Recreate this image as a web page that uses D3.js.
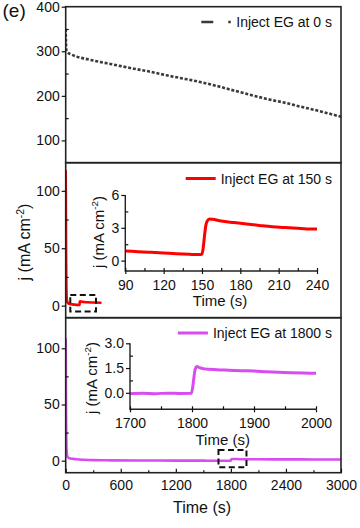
<!DOCTYPE html>
<html><head><meta charset="utf-8">
<script src="https://cdn.jsdelivr.net/npm/d3@7"></script>
<style>
body{margin:0;background:#fff}
svg{display:block;font-family:"Liberation Sans",Arial,sans-serif}
</style>
</head><body>
<svg id="c" width="360" height="528"></svg>
<script>
// ---------------- data ----------------
const timeTop = [0, 3, 8, 20, 60, 120, 240, 375, 500, 740, 900, 1100, 1300, 1465, 1650, 1830, 2000, 2190, 2400, 2555, 2800, 3000];
const valTop  = [350, 318, 302, 298, 293, 288, 282, 276, 271, 261, 255, 246, 238, 231, 222, 212, 203, 193, 184, 176, 164, 153];

const timeMid = [0, 1, 2, 3, 4, 5, 6, 8, 10, 13, 17, 22, 30, 45, 70, 100, 130, 150, 151, 153, 156, 170, 200, 240, 300, 390];
const valMid  = [118, 105, 88, 70, 52, 38, 27, 14, 8, 5, 3.5, 2.6, 2, 1.5, 1.1, 0.85, 0.65, 0.55, 1.2, 3.2, 3.8, 3.5, 3.2, 2.9, 2.7, 2.5];

const timeBot = [0, 1, 2, 3, 5, 7, 10, 14, 20, 30, 50, 80, 120, 200, 300, 500, 800, 1200, 1500, 1799, 1805, 1812, 1900, 2100, 2400, 2700, 3000];
const valBot  = [109, 95, 75, 55, 32, 18, 9, 5, 3.5, 2.6, 2, 1.6, 1.2, 0.8, 0.5, 0.3, 0.15, 0.05, 0, -0.03, 1.2, 1.55, 1.3, 1.2, 1.15, 1.1, 1.05];

const timeInsetMid = [90, 100, 110, 120, 130, 140, 148, 150, 151, 152, 153, 154, 156, 158, 165, 175, 185, 195, 205, 215, 225, 232, 240];
const valInsetMid  = [0.88, 0.82, 0.76, 0.7, 0.63, 0.58, 0.55, 0.6, 1.2, 2.3, 3.2, 3.6, 3.8, 3.78, 3.62, 3.48, 3.35, 3.22, 3.1, 3.02, 2.95, 2.9, 2.88];

const timeInsetBot = [1700, 1720, 1740, 1760, 1780, 1799, 1801, 1803, 1805, 1808, 1812, 1820, 1840, 1860, 1880, 1900, 1920, 1940, 1960, 1980, 2000];
const valInsetBot  = [-0.05, -0.03, -0.05, -0.02, -0.04, -0.03, 0.3, 0.9, 1.4, 1.6, 1.52, 1.45, 1.4, 1.37, 1.34, 1.32, 1.28, 1.25, 1.22, 1.2, 1.18];

const legendLabels = ["Inject EG at 0 s", "Inject EG at 150 s", "Inject EG at 1800 s"];

const xTicks = [0, 600, 1200, 1800, 2400, 3000];
const xMinor = [300, 900, 1500, 2100, 2700];
const topYTicks = [100, 200, 300, 400];
const topYMinor = [150, 250, 350];
const midYTicks = [0, 50, 100];
const midYMinor = [25, 75];
const botYTicks = [0, 50, 100];
const botYMinor = [25, 75];
const insMidXTicks = [90, 120, 150, 180, 210, 240];
const insMidXMinor = [105, 135, 165, 195, 225];
const insMidYTicks = [0, 3, 6];
const insMidYMinor = [1.5, 4.5];
const insBotXTicks = [1700, 1800, 1900, 2000];
const insBotXMinor = [1750, 1850, 1950];
const insBotYTicks = [0, 1.5, 3];
const insBotYMinor = [0.75, 2.25];

// zoom boxes (time range, value range)
const boxMidT = [50, 330], boxMidV = [-5, 9.3];
const boxBotT = [1665, 1970], boxBotV = [-5.9, 9.5];

// ---------------- drawing ----------------
const svg = d3.select("#c");
const RED = "#ff0000", MAG = "#d84cf0", GREY = "#3a3a3a", INK = "#111";

const x = d3.scaleLinear().domain([0, 3000]).range([65.7, 341]);
const yTop = d3.scaleLinear().domain([50, 400]).range([162.7, 6.7]);
const yMid = d3.scaleLinear().domain([-10.5, 124.5]).range([317.7, 162.7]);
const yBot = d3.scaleLinear().domain([-10.7, 127.2]).range([472.7, 317.7]);

const xiM = d3.scaleLinear().domain([90, 240]).range([125.3, 317]);
const yiM = d3.scaleLinear().domain([-0.95, 6]).range([271, 195]);
const xiB = d3.scaleLinear().domain([1700, 2000]).range([130, 316]);
const yiB = d3.scaleLinear().domain([-1, 3]).range([409.3, 343.3]);

function clean(g){ g.select(".domain").remove(); g.selectAll("line").attr("stroke", INK).attr("stroke-width", 1.2); g.selectAll("text").attr("fill", INK); return g; }

function yAxis(xpos, scale, majors, minors, fs, pad, fmt){
  clean(svg.append("g").attr("transform", `translate(${xpos},0)`)
    .call(d3.axisLeft(scale).tickValues(majors).tickSize(4).tickPadding(pad).tickFormat(fmt || d3.format("d"))))
    .selectAll("text").style("font-size", fs + "px");
  clean(svg.append("g").attr("transform", `translate(${xpos},0)`)
    .call(d3.axisRight(scale).tickValues(minors).tickSize(3).tickFormat("")));
}
function xAxis(ypos, scale, majors, minors, fs, pad, out){
  clean(svg.append("g").attr("transform", `translate(0,${ypos})`)
    .call(d3.axisBottom(scale).tickValues(majors).tickSize(out).tickPadding(pad).tickFormat(d3.format("d"))))
    .selectAll("text").style("font-size", fs + "px");
  clean(svg.append("g").attr("transform", `translate(0,${ypos})`)
    .call(d3.axisTop(scale).tickValues(majors).tickSize(4).tickFormat("")));
  clean(svg.append("g").attr("transform", `translate(0,${ypos})`)
    .call(d3.axisTop(scale).tickValues(minors).tickSize(2.5).tickFormat("")));
}

// clip for main plot
svg.append("defs").append("clipPath").attr("id", "clipMain")
  .append("rect").attr("x", x(0)).attr("y", yTop.range()[1]).attr("width", x(3000) - x(0)).attr("height", yBot.range()[0] - yTop.range()[1]);

// ---- main lines ----
const lineTop = d3.line().x((d, i) => x(timeTop[i])).y(d => yTop(d)).curve(d3.curveMonotoneX);
svg.append("path").attr("clip-path", "url(#clipMain)").attr("d", lineTop(valTop))
  .attr("fill", "none").attr("stroke", GREY).attr("stroke-width", 2.6).attr("stroke-dasharray", "3,1.8");

const lineMid = d3.line().x((d, i) => x(timeMid[i])).y(d => yMid(d)).curve(d3.curveMonotoneX);
svg.append("path").attr("clip-path", "url(#clipMain)").attr("d", lineMid(valMid))
  .attr("fill", "none").attr("stroke", RED).attr("stroke-width", 2.6).attr("stroke-linejoin", "round");

const lineBot = d3.line().x((d, i) => x(timeBot[i])).y(d => yBot(d)).curve(d3.curveMonotoneX);
svg.append("path").attr("clip-path", "url(#clipMain)").attr("d", lineBot(valBot))
  .attr("fill", "none").attr("stroke", MAG).attr("stroke-width", 2.6).attr("stroke-linejoin", "round");

// ---- panel frames ----
[[yTop], [yMid], [yBot]].forEach(([ys]) => {
  const [b, t] = ys.range();
  svg.append("rect").attr("x", x(0)).attr("y", t).attr("width", x(3000) - x(0)).attr("height", b - t)
    .attr("fill", "none").attr("stroke", "#222").attr("stroke-width", 1.6);
});

// ---- main axes ----
yAxis(x(0), yTop, topYTicks, topYMinor, 14, 2);
yAxis(x(0), yMid, midYTicks, midYMinor, 14, 2);
yAxis(x(0), yBot, botYTicks, botYMinor, 14, 2);
xAxis(yBot.range()[0], x, xTicks, xMinor, 14, 7.4, 0);

// dashed zoom boxes
function zoomBox(ts, vs, ys){
  svg.append("rect").attr("x", x(ts[0])).attr("y", ys(vs[1]))
    .attr("width", x(ts[1]) - x(ts[0])).attr("height", ys(vs[0]) - ys(vs[1]))
    .attr("fill", "none").attr("stroke", "#111").attr("stroke-width", 2).attr("stroke-dasharray", "6,3.5");
}
zoomBox(boxMidT, boxMidV, yMid);
zoomBox(boxBotT, boxBotV, yBot);

// ---- insets ----
function inset(xs, ys, tArr, vArr, color, xT, xM, yT, yM, yfmt){
  const ln = d3.line().x((d, i) => xs(tArr[i])).y(d => ys(d)).curve(d3.curveMonotoneX);
  svg.append("path").attr("d", ln(vArr)).attr("fill", "none").attr("stroke", color)
    .attr("stroke-width", 3).attr("stroke-linejoin", "round");
  const [x0, x1] = xs.range(), [yb, yt] = ys.range();
  svg.append("path").attr("d", `M${x0},${yt}V${yb}H${x1}`).attr("fill", "none").attr("stroke", "#222").attr("stroke-width", 1.4);
  yAxis(x0, ys, yT, yM, 14, 2, yfmt);
  clean(svg.append("g").attr("transform", `translate(0,${yb})`)
    .call(d3.axisBottom(xs).tickValues(xT).tickSize(3).tickPadding(6).tickFormat(d3.format("d"))))
    .selectAll("text").style("font-size", "14px");
  clean(svg.append("g").attr("transform", `translate(0,${yb})`)
    .call(d3.axisTop(xs).tickValues(xT).tickSize(3).tickFormat("")));
  clean(svg.append("g").attr("transform", `translate(0,${yb})`)
    .call(d3.axisTop(xs).tickValues(xM).tickSize(3).tickFormat("")));
}
inset(xiM, yiM, timeInsetMid, valInsetMid, RED, insMidXTicks, insMidXMinor, insMidYTicks, insMidYMinor, d3.format("d"));
inset(xiB, yiB, timeInsetBot, valInsetBot, MAG, insBotXTicks, insBotXMinor, insBotYTicks, insBotYMinor, d3.format(".1f"));

// ---- axis titles ----
function jLabel(tx, ty, fs){
  const t = svg.append("text").attr("transform", `translate(${tx},${ty}) rotate(-90)`)
    .attr("text-anchor", "middle").attr("fill", INK).style("font-size", fs + "px");
  t.append("tspan").text("j (mA cm");
  t.append("tspan").attr("dy", -fs * 0.38).style("font-size", (fs * 0.65) + "px").text("-2");
  t.append("tspan").attr("dy", fs * 0.38).text(")");
}
jLabel(30, 242, 16);
jLabel(103.5, 232, 15);
jLabel(97, 378, 15);

function timeLabel(tx, ty, fs){
  svg.append("text").attr("x", tx).attr("y", ty).attr("text-anchor", "middle").attr("fill", INK)
    .style("font-size", fs + "px").text("Time (s)");
}
timeLabel(202, 513, 16);
timeLabel(220, 306, 15);
timeLabel(222.7, 445, 15);

// ---- legends ----
function legend(label, ty, color, dash){
  const t = svg.append("text").attr("x", 332).attr("y", ty).attr("text-anchor", "end").attr("fill", INK)
    .style("font-size", "14px").text(label);
  const bb = t.node().getBBox();
  const le = bb.x - 5, ls = le - 30;
  const p = svg.append("path").attr("d", `M${ls},${ty - 5}H${le}`).attr("stroke", color).attr("stroke-width", dash ? 2.6 : 3);
  if (dash) p.attr("stroke-dasharray", "12,15,2.5,100");
}
legend(legendLabels[0], 27, GREY, true);
legend(legendLabels[1], 183.5, RED, false);
legend(legendLabels[2], 338, MAG, false);

// panel tag
svg.append("text").attr("x", 2.5).attr("y", 17).attr("fill", INK).style("font-size", "19px").text("(e)");
</script>
</body></html>
